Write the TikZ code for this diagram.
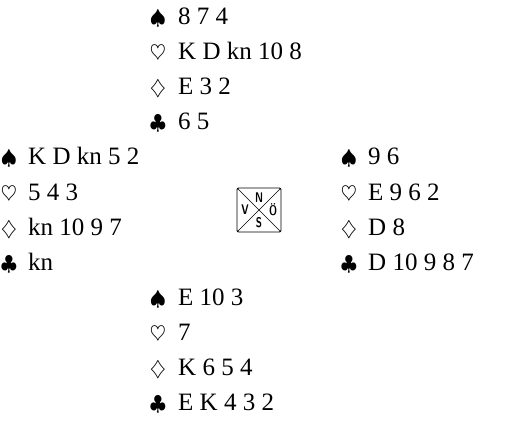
\documentclass[tikz,border=0pt]{standalone}
\usepackage{fontspec}
\setmainfont{Liberation Serif}
\begin{document}
\begin{tikzpicture}[x=1pt,y=-1pt,
  suit/.style={anchor=base,inner sep=0pt,font=\fontsize{22}{22}\selectfont},
  cards/.style={anchor=base west,inner sep=0pt,font=\fontsize{25}{25}\selectfont},
  dir/.style={inner sep=0pt,xscale=0.72,font=\fontsize{14}{14}\sffamily\bfseries}]
\useasboundingbox (0,0) rectangle (510,446);
% North
\node[suit] (ns) at (158,25) {$\spadesuit$};
\node[cards] (nst) at (178,25) {8 7 4};
\node[suit] (nh) at (158,60) {$\heartsuit$};
\node[cards] (nht) at (178,60) {K D kn 10 8};
\node[suit] (nd) at (158,95) {$\diamondsuit$};
\node[cards] (ndt) at (178,95) {E 3 2};
\node[suit] (nc) at (158,130) {$\clubsuit$};
\node[cards] (nct) at (178,130) {6 5};
% West
\node[suit] (ws) at (9,165) {$\spadesuit$};
\node[cards] (wst) at (28,165) {K D kn 5 2};
\node[suit] (wh) at (9,200) {$\heartsuit$};
\node[cards] (wht) at (28,200) {5 4 3};
\node[suit] (wd) at (9,235) {$\diamondsuit$};
\node[cards] (wdt) at (28,235) {kn 10 9 7};
\node[suit] (wc) at (9,270) {$\clubsuit$};
\node[cards] (wct) at (28,270) {kn};
% East
\node[suit] (es) at (349,165) {$\spadesuit$};
\node[cards] (est) at (368,165) {9 6};
\node[suit] (eh) at (349,200) {$\heartsuit$};
\node[cards] (eht) at (368,200) {E 9 6 2};
\node[suit] (ed) at (349,235) {$\diamondsuit$};
\node[cards] (edt) at (368,235) {D 8};
\node[suit] (ec) at (349,270) {$\clubsuit$};
\node[cards] (ect) at (368,270) {D 10 9 8 7};
% South
\node[suit] (ss) at (158,305) {$\spadesuit$};
\node[cards] (sst) at (178,305) {E 10 3};
\node[suit] (sh) at (158,340) {$\heartsuit$};
\node[cards] (sht) at (178,340) {7};
\node[suit] (sd) at (158,375) {$\diamondsuit$};
\node[cards] (sdt) at (178,375) {K 6 5 4};
\node[suit] (sc) at (158,410) {$\clubsuit$};
\node[cards] (sct) at (178,410) {E K 4 3 2};
% Compass
\draw[line width=0.8pt,rounded corners=1.5pt] (237,188) rectangle (281,232);
\draw[line width=0.5pt] (237,188) -- (281,232) (281,188) -- (237,232);
\node[dir] (cn) at (259,198) {N};
\node[dir] (cv) at (245,210) {V};
\node[dir] (co) at (273,210) {Ö};
\node[dir] (cs) at (259,223) {S};
\end{tikzpicture}
\end{document}
